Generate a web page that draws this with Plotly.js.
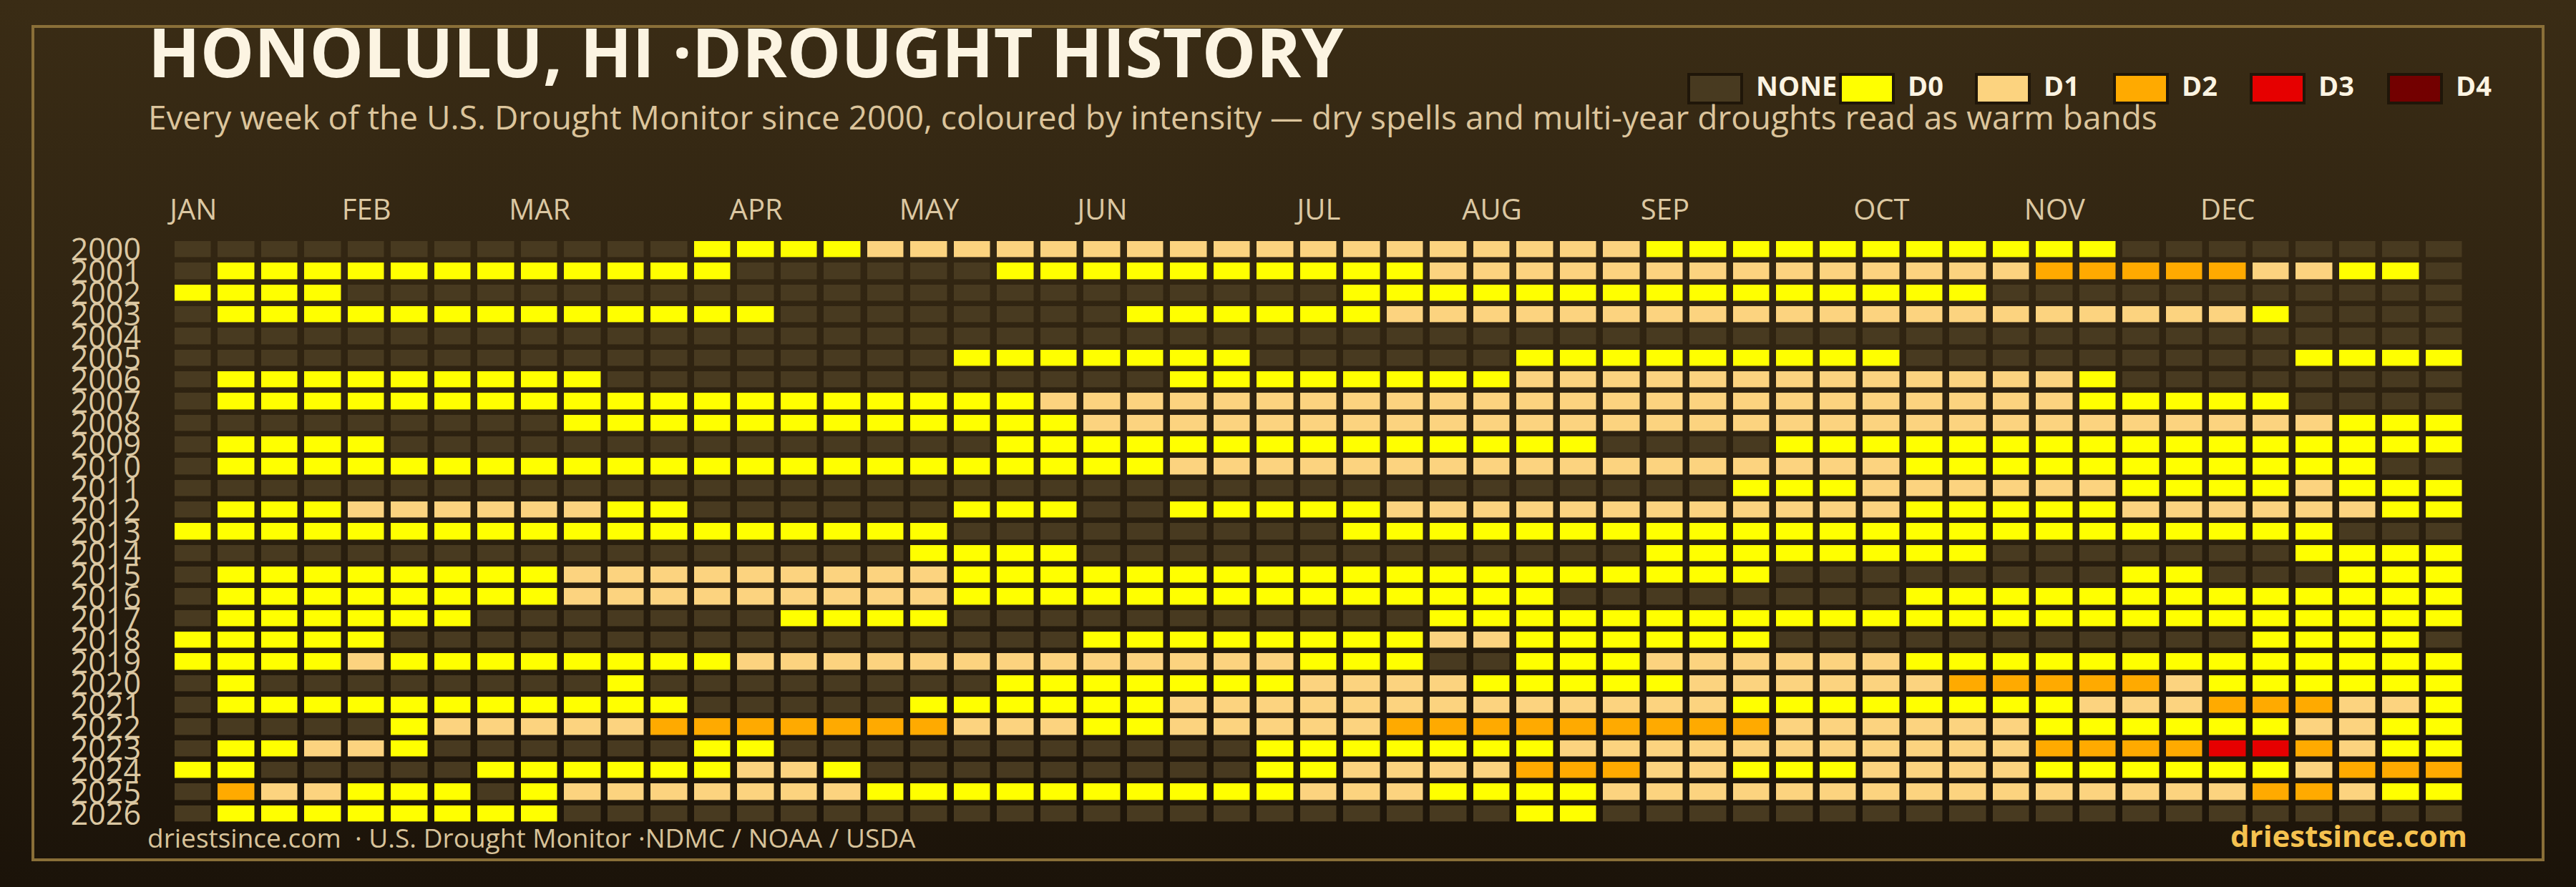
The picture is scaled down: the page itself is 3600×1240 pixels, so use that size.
<!DOCTYPE html>
<html>
<head>
<meta charset="utf-8">
<script src="https://cdn.plot.ly/plotly-3.0.1.min.js"></script>
<style>
  html, body { margin: 0; padding: 0; }
  body { width: 3600px; height: 1240px; background: linear-gradient(180deg, #3a2c15 0%, #2c2110 50%, #1b1309 100%); overflow: hidden; }
  #chart { width: 3600px; height: 1240px; }
</style>
</head>
<body>
<div id="chart"></div>
<script>
// ---------- DATA ----------
// drought level per week: 0 = none, 1 = D0, 2 = D1, 3 = D2, 4 = D3, 5 = D4
const y2000 = [0,0,0,0,0,0,0,0,0,0,0,0,1,1, 1,1,2,2,2,2,2,2,2,2,2,2,2, 2,2,2,2,2,2,2,1,1,1,1,1,1, 1,1,1,1,1,0,0,0,0,0,0,0,0];
const y2001 = [0,1,1,1,1,1,1,1,1,1,1,1,1,0, 0,0,0,0,0,1,1,1,1,1,1,1,1, 1,1,2,2,2,2,2,2,2,2,2,2,2, 2,2,2,3,3,3,3,3,2,2,1,1,0];
const y2002 = [1,1,1,1,0,0,0,0,0,0,0,0,0,0, 0,0,0,0,0,0,0,0,0,0,0,0,0, 1,1,1,1,1,1,1,1,1,1,1,1,1, 1,1,0,0,0,0,0,0,0,0,0,0,0];
const y2003 = [0,1,1,1,1,1,1,1,1,1,1,1,1,1, 0,0,0,0,0,0,0,0,1,1,1,1,1, 1,2,2,2,2,2,2,2,2,2,2,2,2, 2,2,2,2,2,2,2,2,1,0,0,0,0];
const y2004 = [0,0,0,0,0,0,0,0,0,0,0,0,0,0, 0,0,0,0,0,0,0,0,0,0,0,0,0, 0,0,0,0,0,0,0,0,0,0,0,0,0, 0,0,0,0,0,0,0,0,0,0,0,0,0];
const y2005 = [0,0,0,0,0,0,0,0,0,0,0,0,0,0, 0,0,0,0,1,1,1,1,1,1,1,0,0, 0,0,0,0,1,1,1,1,1,1,1,1,1, 0,0,0,0,0,0,0,0,0,1,1,1,1];
const y2006 = [0,1,1,1,1,1,1,1,1,1,0,0,0,0, 0,0,0,0,0,0,0,0,0,1,1,1,1, 1,1,1,1,2,2,2,2,2,2,2,2,2, 2,2,2,2,1,0,0,0,0,0,0,0,0];
const y2007 = [0,1,1,1,1,1,1,1,1,1,1,1,1,1, 1,1,1,1,1,1,2,2,2,2,2,2,2, 2,2,2,2,2,2,2,2,2,2,2,2,2, 2,2,2,2,1,1,1,1,1,0,0,0,0];
const y2008 = [0,0,0,0,0,0,0,0,0,1,1,1,1,1, 1,1,1,1,1,1,1,2,2,2,2,2,2, 2,2,2,2,2,2,2,2,2,2,2,2,2, 2,2,2,2,2,2,2,2,2,2,1,1,1];
const y2009 = [0,1,1,1,1,0,0,0,0,0,0,0,0,0, 0,0,0,0,0,1,1,1,1,1,1,1,1, 1,1,1,1,1,1,0,0,0,0,1,1,1, 1,1,1,1,1,1,1,1,1,1,1,1,1];
const y2010 = [0,1,1,1,1,1,1,1,1,1,1,1,1,1, 1,1,1,1,1,1,1,1,1,2,2,2,2, 2,2,2,2,2,2,2,2,2,2,2,2,2, 1,1,1,1,1,1,1,1,1,1,1,0,0];
const y2011 = [0,0,0,0,0,0,0,0,0,0,0,0,0,0, 0,0,0,0,0,0,0,0,0,0,0,0,0, 0,0,0,0,0,0,0,0,0,1,1,1,2, 2,2,2,2,2,1,1,1,1,2,1,1,1];
const y2012 = [0,1,1,1,2,2,2,2,2,2,1,1,0,0, 0,0,0,0,1,1,1,0,0,1,1,1,1, 1,2,2,2,2,2,2,2,2,2,2,2,2, 1,1,1,1,1,2,2,2,2,2,2,1,1];
const y2013 = [1,1,1,1,1,1,1,1,1,1,1,1,1,1, 1,1,1,1,0,0,0,0,0,0,0,0,0, 1,1,1,1,1,1,1,1,1,1,1,1,1, 1,1,1,1,1,1,1,1,1,1,0,0,0];
const y2014 = [0,0,0,0,0,0,0,0,0,0,0,0,0,0, 0,0,0,1,1,1,1,0,0,0,0,0,0, 0,0,0,0,0,0,0,1,1,1,1,1,1, 1,1,0,0,0,0,0,0,0,1,1,1,1];
const y2015 = [0,1,1,1,1,1,1,1,1,2,2,2,2,2, 2,2,2,2,1,1,1,1,1,1,1,1,1, 1,1,1,1,1,1,1,1,1,1,0,0,0, 0,0,0,0,0,1,1,0,0,0,1,1,1];
const y2016 = [0,1,1,1,1,1,1,1,1,2,2,2,2,2, 2,2,2,2,1,1,1,1,1,1,1,1,1, 1,1,1,1,1,0,0,0,0,0,0,0,0, 1,1,1,1,1,1,1,1,1,1,1,1,1];
const y2017 = [0,1,1,1,1,1,1,0,0,0,0,0,0,0, 1,1,1,1,0,0,0,0,0,0,0,0,0, 0,0,1,1,1,1,1,1,1,1,1,1,1, 1,1,1,1,1,1,1,1,1,1,1,1,1];
const y2018 = [1,1,1,1,1,0,0,0,0,0,0,0,0,0, 0,0,0,0,0,0,0,1,1,1,1,1,1, 1,1,2,2,1,1,1,1,1,1,0,0,0, 0,0,0,0,0,0,0,0,1,1,1,1,0];
const y2019 = [1,1,1,1,2,1,1,1,1,1,1,1,1,2, 2,2,2,2,2,2,2,2,2,2,2,2,1, 1,1,0,0,1,1,1,2,2,2,2,2,2, 1,1,1,1,1,1,1,1,1,1,1,1,1];
const y2020 = [0,1,0,0,0,0,0,0,0,0,1,0,0,0, 0,0,0,0,0,1,1,1,1,1,1,1,2, 2,2,2,1,1,1,1,1,2,2,2,2,2, 2,3,3,3,3,3,2,1,1,1,1,1,1];
const y2021 = [0,1,1,1,1,1,1,1,1,1,1,1,0,0, 0,0,0,1,1,1,1,1,1,2,2,2,2, 2,2,2,2,2,2,2,2,2,1,1,1,1, 1,1,1,1,2,2,2,3,3,3,2,2,1];
const y2022 = [0,0,0,0,0,1,2,2,2,2,2,3,3,3, 3,3,3,3,2,2,2,1,1,2,2,2,2, 2,3,3,3,3,3,3,3,3,3,2,2,2, 2,2,2,1,1,1,1,1,1,2,2,1,1];
const y2023 = [0,1,1,2,2,1,0,0,0,0,0,0,1,1, 0,0,0,0,0,0,0,0,0,0,0,1,1, 1,1,1,1,1,2,2,2,2,2,2,2,2, 2,2,2,3,3,3,3,4,4,3,2,1,1];
const y2024 = [1,1,0,0,0,0,0,1,1,1,1,1,1,2, 2,1,0,0,0,0,0,0,0,0,0,1,1, 2,2,2,2,3,3,3,2,2,1,1,1,2, 2,2,2,1,1,1,1,1,1,2,3,3,3];
const y2025 = [0,3,2,2,1,1,1,0,1,2,2,2,2,2, 2,2,1,1,1,1,1,1,1,1,1,1,2, 2,2,1,1,1,1,2,2,2,2,2,2,2, 2,2,2,2,2,2,2,2,3,3,2,1,1];
const y2026 = [0,1,1,1,1,1,1,1,1,0,0,0,0,0, 0,0,0,0,0,0,0,0,0,0,0,0,0, 0,0,0,0,1,1,0,0,0,0,0,0,0, 0,0,0,0,0,0,0,0,0,0,0,0,0];

const years = [2000,2001,2002,2003,2004,2005,2006,2007,2008,2009,2010,2011,2012,2013,
               2014,2015,2016,2017,2018,2019,2020,2021,2022,2023,2024,2025,2026];
const weekRows = [y2000,y2001,y2002,y2003,y2004,y2005,y2006,y2007,y2008,y2009,y2010,y2011,y2012,y2013,
                  y2014,y2015,y2016,y2017,y2018,y2019,y2020,y2021,y2022,y2023,y2024,y2025,y2026];
const monthWeeks = [1,5,9,14,18,22,27,31,35,40,44,48];
const monthLabels = ['JAN','FEB','MAR','APR','MAY','JUN','JUL','AUG','SEP','OCT','NOV','DEC'];
const levelNames = ['NONE','D0','D1','D2','D3','D4'];
const levelColors = ['#483a20','#ffff00','#fcd37f','#ffaa00','#e60000','#730000'];

// ---------- LAYOUT HELPERS ----------
const W = 3600, H = 1240;
const M = {l: 240, r: 154, t: 334, b: 87};
const PW = W - M.l - M.r, PH = H - M.t - M.b;
const px = x => (x - M.l) / PW;
const py = y => 1 - (y - M.t) / PH;

const weeks = weekRows[0].map((_, i) => i + 1);

const n = levelColors.length;
const colorscale = [];
levelColors.forEach((c, i) => { colorscale.push([i / n, c]); colorscale.push([(i + 1) / n, c]); });

const trace = {
  type: 'heatmap',
  x: weeks,
  y: years,
  z: weekRows,
  zmin: -0.5, zmax: n - 0.5,
  colorscale: colorscale,
  showscale: false,
  xgap: 9.5, ygap: 7.6,
  hoverinfo: 'skip'
};

const shapes = [];
const annotations = [];

// frame
shapes.push({type: 'rect', xref: 'paper', yref: 'paper', x0: px(46), x1: px(3554), y0: py(37), y1: py(1202),
             line: {color: '#8a6f38', width: 4}, fillcolor: 'rgba(0,0,0,0)', layer: 'below'});

// legend
const swLeft = [2360, 2572, 2762, 2955, 3146, 3338];
levelNames.forEach((name, i) => {
  shapes.push({type: 'rect', xref: 'paper', yref: 'paper', x0: px(swLeft[i]), x1: px(swLeft[i] + 74),
               y0: py(104), y1: py(144), fillcolor: levelColors[i], line: {color: '#1f1609', width: 4}});
  annotations.push({xref: 'paper', yref: 'paper', x: px(swLeft[i] + 92), y: py(119), xanchor: 'left', yanchor: 'middle',
                    text: '<b>' + name + '</b>', showarrow: false,
                    font: {family: 'Open Sans', size: 38, color: '#fcf4e2'}});
});

// title, subtitle, footer
annotations.push({xref: 'paper', yref: 'paper', x: px(205), y: py(71), xanchor: 'left', yanchor: 'middle',
  text: '<b>HONOLULU, HI ·DROUGHT HISTORY</b>', showarrow: false,
  font: {family: 'Open Sans', size: 95, color: '#fcf4e2'}});
annotations.push({xref: 'paper', yref: 'paper', x: px(205), y: py(163), xanchor: 'left', yanchor: 'middle',
  text: 'Every week of the U.S. Drought Monitor since 2000, coloured by intensity — dry spells and multi-year droughts read as warm bands',
  showarrow: false, font: {family: 'Open Sans', size: 46, weight: 500, color: '#dcc59c'}});
annotations.push({xref: 'paper', yref: 'paper', x: px(204), y: py(1170), xanchor: 'left', yanchor: 'middle',
  text: 'driestsince.com  · U.S. Drought Monitor ·NDMC / NOAA / USDA',
  showarrow: false, font: {family: 'Open Sans', size: 37, color: '#d8c39a'}});
annotations.push({xref: 'paper', yref: 'paper', x: px(3450), y: py(1167), xanchor: 'right', yanchor: 'middle',
  text: '<b>driestsince.com</b>',
  showarrow: false, font: {family: 'Open Sans', size: 42, color: '#f5c24f'}});

const layout = {
  width: W, height: H,
  margin: M,
  paper_bgcolor: 'rgba(0,0,0,0)',
  plot_bgcolor: 'rgba(0,0,0,0)',
  showlegend: false,
  xaxis: {
    side: 'top', range: [0.5, weeks.length + 0.5], tickmode: 'array', tickvals: monthWeeks, ticktext: monthLabels,
    ticks: '', showgrid: false, zeroline: false, showline: false, automargin: false,
    ticklabelstandoff: 18,
    tickfont: {family: 'Open Sans', size: 40, color: '#dcc8a2'}
  },
  yaxis: {
    autorange: false, range: [years[years.length - 1] + 0.5, years[0] - 0.5],
    tickmode: 'array', tickvals: years, ticktext: years.map(String),
    ticks: '', showgrid: false, zeroline: false, showline: false, automargin: false,
    ticklabelstandoff: 42,
    tickfont: {family: 'Open Sans', size: 43, color: '#dcc8a2'}
  },
  shapes: shapes,
  annotations: annotations
};

Plotly.newPlot('chart', [trace], layout, {staticPlot: true, displayModeBar: false});
</script>
</body>
</html>
